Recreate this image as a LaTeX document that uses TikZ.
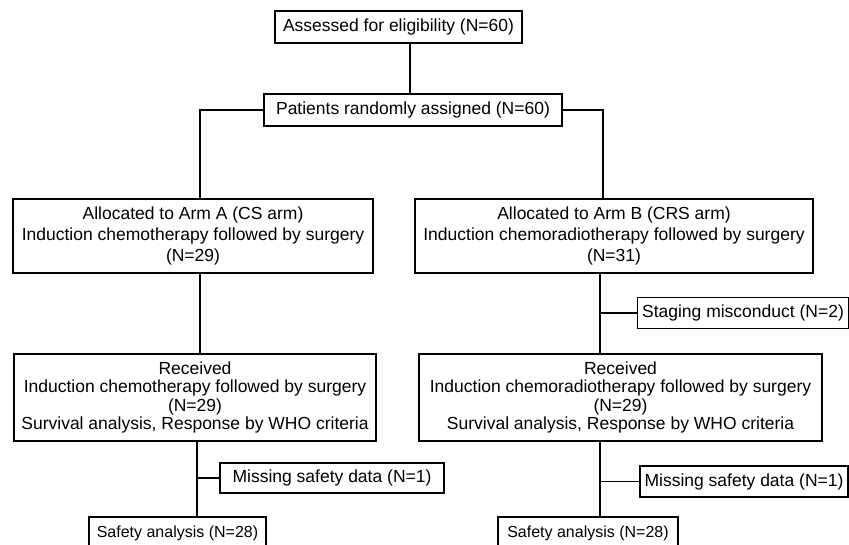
\documentclass[tikz,border=0pt]{standalone}
\usepackage{fontspec}
\setmainfont{Liberation Sans}
\begin{document}
\begin{tikzpicture}[x=1pt,y=-1pt,
  box/.style={draw=black, line width=1.4pt, align=center, inner sep=0pt,
    font=\fontsize{17.5}{20}\selectfont},
  bigbox/.style={box, font=\fontsize{17.5}{21}\selectfont},
  recbox/.style={box, font=\fontsize{17.5}{18.5}\selectfont},
  smallbox/.style={box, font=\fontsize{16}{18}\selectfont},
  ln/.style={draw=black, line width=1.4pt}]
\useasboundingbox (0,0) rectangle (849,544);
\fill[white] (0,0) rectangle (849,544);
% guide coordinates for connector x-positions
\coordinate (xtop) at (410,0);
\coordinate (xa) at (200,0);
\coordinate (xb) at (603,0);
\coordinate (xa2) at (197,0);
\coordinate (xb2) at (600,0);
% nodes
\node[box, minimum width=247pt, minimum height=32pt] (ass) at (398.5,27) {Assessed for eligibility (N=60)};
\node[box, minimum width=298pt, minimum height=32pt] (pat) at (413,110) {Patients randomly assigned (N=60)};
\node[bigbox, minimum width=360pt, minimum height=74pt] (armA) at (193,236)
  {Allocated to Arm A (CS arm)\\Induction chemotherapy followed by surgery\\(N=29)};
\node[bigbox, minimum width=398pt, minimum height=74pt] (armB) at (614,236)
  {Allocated to Arm B (CRS arm)\\Induction chemoradiotherapy followed by surgery\\(N=31)};
\node[box, minimum width=211pt, minimum height=31pt] (stag) at (743,313) {Staging misconduct (N=2)};
\node[recbox, minimum width=362pt, minimum height=87pt] (recA) at (195,397.5)
  {Received\\Induction chemotherapy followed by surgery\\(N=29)\\Survival analysis, Response by WHO criteria};
\node[recbox, minimum width=403pt, minimum height=87pt] (recB) at (620.5,397.5)
  {Received\\Induction chemoradiotherapy followed by surgery\\(N=29)\\Survival analysis, Response by WHO criteria};
\node[box, minimum width=224pt, minimum height=30pt] (missA) at (332,478) {Missing safety data (N=1)};
\node[box, minimum width=208pt, minimum height=31pt] (missB) at (744,481.5) {Missing safety data (N=1)};
\node[smallbox, minimum width=177pt, minimum height=32pt] (safA) at (177.5,533) {Safety analysis (N=28)};
\node[smallbox, minimum width=180pt, minimum height=32pt] (safB) at (588,533) {Safety analysis (N=28)};
% connectors
\draw[ln] (ass.south -| xtop) -- (pat.north -| xtop);
\draw[ln] (pat.west) -| (armA.north -| xa);
\draw[ln] (pat.east) -| (armB.north -| xb);
\draw[ln] (armA.south -| xa) -- (recA.north -| xa);
\draw[ln] (armB.south -| xb2) -- (recB.north -| xb2);
\draw[ln] (stag.west -| xb2) -- (stag.west);
\draw[ln] (recA.south -| xa2) -- (safA.north -| xa2);
\draw[ln] (missA.west -| xa2) -- (missA.west);
\draw[ln] (recB.south -| xb2) -- (safB.north -| xb2);
\draw[ln] (missB.west -| xb2) -- (missB.west);
\end{tikzpicture}
\end{document}
